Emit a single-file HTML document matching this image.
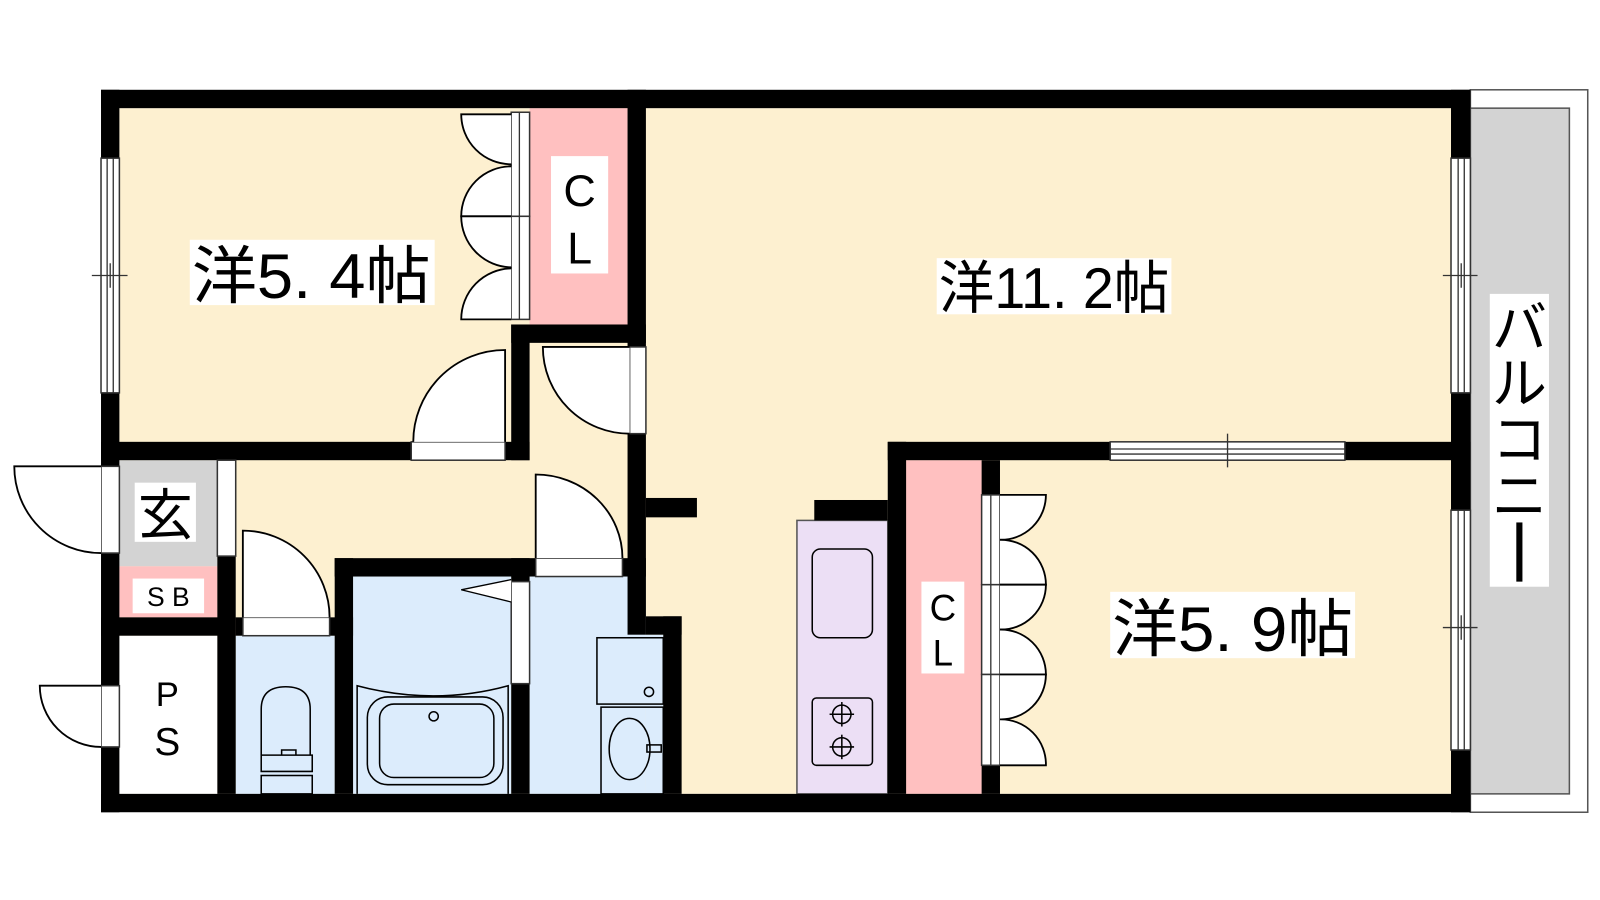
<!DOCTYPE html>
<html><head><meta charset="utf-8"><style>
html,body{margin:0;padding:0;background:#fff;}
svg{display:block;}
text{font-family:"Liberation Sans","Noto Sans CJK JP",sans-serif;}
</style></head><body>
<svg width="1600" height="900" viewBox="0 0 1600 900" xmlns="http://www.w3.org/2000/svg">
<rect width="1600" height="900" fill="#fff"/>
<g transform="scale(1.0204)">
<!-- balcony -->
<rect x="1441" y="88" width="115" height="708" fill="#fff" stroke="#555" stroke-width="1.5"/>
<rect x="1441" y="106" width="97" height="672" fill="#d3d3d3" stroke="#555" stroke-width="1.5"/>
<!-- room fills -->
<rect x="117" y="106" width="1305" height="672" fill="#fdf0d0"/>
<rect x="519" y="106" width="96" height="212" fill="#ffc0c0"/>
<rect x="888" y="451" width="74" height="327" fill="#ffc0c0"/>
<rect x="117" y="451" width="96" height="104" fill="#d3d3d3"/>
<rect x="117" y="555" width="96" height="50" fill="#ffc0c0"/>
<rect x="117" y="623" width="96" height="155" fill="#fff"/>
<rect x="231" y="623" width="97" height="155" fill="#dcecfc"/>
<rect x="346" y="565" width="155" height="213" fill="#dcecfc"/>
<rect x="519" y="565" width="114" height="213" fill="#dcecfc"/>
<rect x="633" y="622" width="17" height="156" fill="#dcecfc"/>
<rect x="781" y="510" width="89" height="268" fill="#ecdff5" stroke="#555" stroke-width="1.5"/>
<!-- walls -->
<g fill="#000">
<rect x="99" y="88" width="1342" height="18"/>
<rect x="99" y="778" width="1342" height="18"/>
<rect x="99" y="88" width="18" height="708"/>
<rect x="1422" y="88" width="19" height="708"/>
<rect x="99" y="433" width="420" height="18"/>
<rect x="501" y="318" width="18" height="133"/>
<rect x="501" y="318" width="132" height="18"/>
<rect x="615" y="88" width="18" height="534"/>
<rect x="633" y="488" width="50" height="19"/>
<rect x="633" y="604" width="35" height="18"/>
<rect x="650" y="604" width="18" height="174"/>
<rect x="870" y="433" width="571" height="18"/>
<rect x="870" y="433" width="18" height="345"/>
<rect x="798" y="490" width="72" height="20"/>
<rect x="962" y="451" width="18" height="327"/>
<rect x="213" y="545" width="18" height="233"/>
<rect x="99" y="605" width="132" height="18"/>
<rect x="231" y="605" width="115" height="18"/>
<rect x="328" y="547" width="18" height="231"/>
<rect x="328" y="547" width="305" height="18"/>
<rect x="501" y="547" width="18" height="231"/>
</g>
<!-- openings / frames -->
<g fill="#fff" stroke="#333" stroke-width="1.5">
<rect x="403" y="433" width="92" height="18"/>
<rect x="617" y="340" width="16" height="85"/>
<rect x="99" y="457" width="18" height="85"/>
<rect x="99" y="672" width="18" height="60"/>
<rect x="238" y="605" width="85" height="18"/>
<rect x="525" y="547" width="85" height="18"/>
<rect x="213" y="451" width="18" height="94"/>
<rect x="501" y="570" width="18" height="100"/>
<rect x="501" y="110" width="18" height="102"/>
<rect x="501" y="212" width="18" height="101"/>
<rect x="962" y="485" width="18" height="88"/>
<rect x="962" y="573" width="18" height="88"/>
<rect x="962" y="661" width="18" height="89"/>
<rect x="99" y="155" width="18" height="230"/>
<rect x="1422" y="155" width="19" height="230"/>
<rect x="1422" y="500" width="19" height="235"/>
<rect x="1088" y="433" width="230" height="18"/>
</g>
<g stroke="#333" stroke-width="1.3" fill="none">
<line x1="105" y1="155" x2="105" y2="385"/><line x1="111" y1="155" x2="111" y2="385"/>
<line x1="90" y1="270" x2="125" y2="270"/><line x1="108" y1="258" x2="108" y2="282"/>
<line x1="1429" y1="155" x2="1429" y2="385"/><line x1="1435" y1="155" x2="1435" y2="385"/>
<line x1="1414" y1="270" x2="1448" y2="270"/><line x1="1432" y1="258" x2="1432" y2="282"/>
<line x1="1429" y1="500" x2="1429" y2="735"/><line x1="1435" y1="500" x2="1435" y2="735"/>
<line x1="1414" y1="615" x2="1448" y2="615"/><line x1="1432" y1="603" x2="1432" y2="627"/>
<line x1="1088" y1="440" x2="1318" y2="440"/><line x1="1088" y1="445" x2="1318" y2="445"/>
<line x1="1203" y1="425" x2="1203" y2="458"/>
<line x1="509" y1="110" x2="509" y2="313"/>
<line x1="971" y1="485" x2="971" y2="750"/>
</g>
<!-- doors -->
<g fill="#fff" stroke="#000" stroke-width="1.8">
<path d="M495,433 L495,343 A90,90 0 0,0 405,433"/>
<path d="M617,340 L532,340 A85,85 0 0,0 617,425"/>
<path d="M99,457 L14,457 A85,85 0 0,0 99,542"/>
<path d="M99,672 L39,672 A60,60 0 0,0 99,732"/>
<path d="M238,605 L238,520 A85,85 0 0,1 323,605"/>
<path d="M525,547 L525,465 A85,82 0 0,1 610,547"/>
<path d="M501,568 L452,578 L501,590" stroke-width="1.3" fill="#fff"/>
<path d="M501,112 L452,112 A49,49 0 0,0 501,161"/>
<path d="M501,212 L452,212 A49,49 0 0,1 501,163"/>
<path d="M501,212 L452,212 A50,50 0 0,0 501,262"/>
<path d="M501,313 L452,313 A50,50 0 0,1 501,263"/>
<path d="M980,485 L1025,485 A44,44 0 0,1 980,529"/>
<path d="M980,573 L1025,573 A44,44 0 0,0 980,529"/>
<path d="M980,573 L1025,573 A44,44 0 0,1 980,617"/>
<path d="M980,661 L1025,661 A44,44 0 0,0 980,617"/>
<path d="M980,661 L1025,661 A44,44 0 0,1 980,705"/>
<path d="M980,750 L1025,750 A44,44 0 0,0 980,705"/>
</g>
<!-- fixtures -->
<g fill="none" stroke="#000" stroke-width="1.5">
<rect x="796" y="538" width="59" height="87" rx="8"/>
<rect x="796" y="684" width="59" height="66" rx="4"/>
<circle cx="825" cy="700" r="9"/><circle cx="825" cy="732" r="9"/>
<line x1="813" y1="700" x2="837" y2="700"/><line x1="825" y1="688" x2="825" y2="712"/>
<line x1="813" y1="732" x2="837" y2="732"/><line x1="825" y1="720" x2="825" y2="744"/>
<path d="M256,740 L256,695 Q256,673 280,673 Q304,673 304,695 L304,740"/>
<path d="M256,740 L306,740 L306,756 L256,756 Z M276,740 L276,735 L290,735 L290,740"/>
<rect x="256" y="760" width="50" height="18"/>
<path d="M350,778 L350,672 Q425,692 498,672 L498,778"/>
<rect x="360" y="683" width="133" height="86" rx="20"/>
<rect x="372" y="690" width="112" height="72" rx="14"/>
<circle cx="425" cy="702" r="4.5"/>
<rect x="585" y="625" width="65" height="65" fill="#dcecfc"/>
<circle cx="636" cy="678" r="4.5"/>
<rect x="589" y="693" width="61" height="85"/>
<ellipse cx="617" cy="734" rx="20" ry="30"/>
<rect x="634" y="730" width="14" height="7"/>
</g>
<!-- labels -->
<g fill="#fff">
<rect x="186" y="235" width="240" height="64"/>
<rect x="918" y="253" width="230" height="55"/>
<rect x="1088" y="580" width="240" height="65"/>
<rect x="540" y="153" width="56" height="115"/>
<rect x="903" y="570" width="42" height="90"/>
<rect x="1460" y="288" width="58" height="287"/>
<rect x="132" y="473" width="60" height="58"/>
<rect x="130" y="567" width="70" height="34"/>
</g>
<g fill="#000">
<text x="188" y="292" font-size="62" textLength="234" lengthAdjust="spacingAndGlyphs">洋5. 4帖</text>
<text x="920" y="302" font-size="56" textLength="226" lengthAdjust="spacingAndGlyphs">洋11. 2帖</text>
<text x="1090" y="638" font-size="62" textLength="236" lengthAdjust="spacingAndGlyphs">洋5. 9帖</text>
<text x="568" y="202" font-size="44" text-anchor="middle">C</text>
<text x="568" y="258" font-size="44" text-anchor="middle">L</text>
<text x="924" y="608" font-size="36" text-anchor="middle">C</text>
<text x="924" y="652" font-size="36" text-anchor="middle">L</text>
<text x="162" y="524" font-size="54" text-anchor="middle">玄</text>
<text x="165" y="594" font-size="26" text-anchor="middle">S B</text>
<text x="164" y="692" font-size="34" text-anchor="middle">P</text>
<text x="164" y="740" font-size="38" text-anchor="middle">S</text>
<text x="1489" y="340" font-size="54" text-anchor="middle">バ</text>
<text x="1489" y="395" font-size="54" text-anchor="middle">ル</text>
<text x="1489" y="450" font-size="54" text-anchor="middle">コ</text>
<text x="1489" y="505" font-size="54" text-anchor="middle">ニ</text>
<rect x="1486" y="512" width="6" height="58"/>
</g>
</g>
</svg>
</body></html>
